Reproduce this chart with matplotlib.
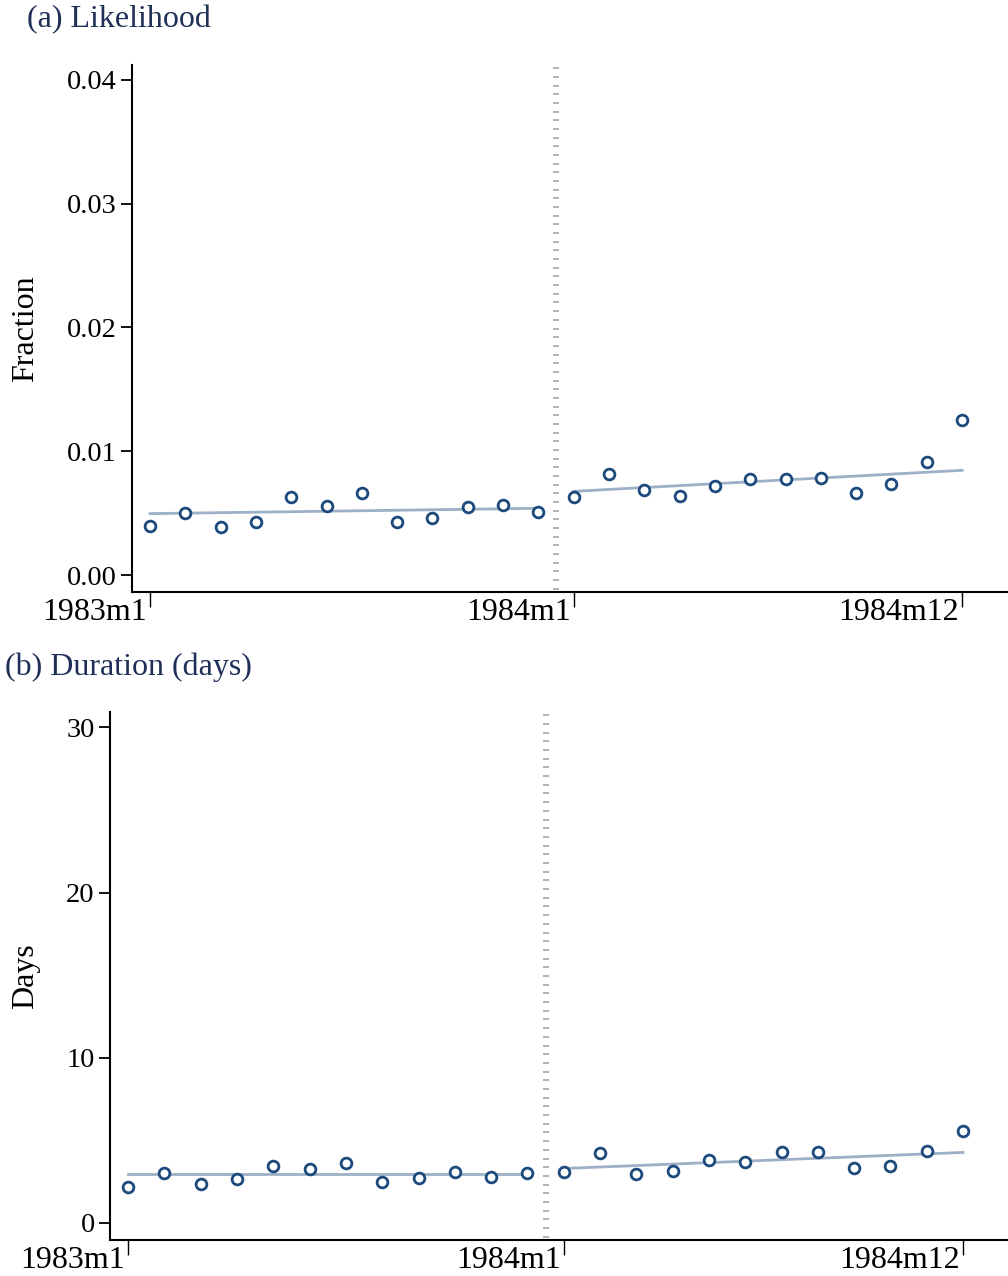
import numpy as np
import matplotlib
matplotlib.use("Agg")
import matplotlib.pyplot as plt
import matplotlib.transforms as mtransforms

plt.rcParams["font.family"] = ["Liberation Serif", "DejaVu Serif"]

# months 1983m1 .. 1984m12 as index 0..23
months = np.arange(24)
cutoff = 11.5

# (a) Likelihood, fraction
likelihood = [0.00396, 0.00503, 0.00385, 0.00431, 0.00633, 0.00555,
              0.00660, 0.00431, 0.00461, 0.00550, 0.00563, 0.00512,
              0.00628, 0.00816, 0.00684, 0.00641, 0.00722, 0.00773,
              0.00778, 0.00784, 0.00663, 0.00733, 0.00916, 0.01253]
like_fit_pre = [0.00496, 0.00539]
like_fit_post = [0.00676, 0.00846]

# (b) Duration, days
duration = [2.18, 3.03, 2.34, 2.64, 3.47, 3.25, 3.61, 2.50, 2.72, 3.11, 2.76, 3.00,
            3.06, 4.24, 2.98, 3.16, 3.83, 3.69, 4.27, 4.31, 3.35, 3.45, 4.36, 5.58]
dur_fit_pre = [2.96, 2.96]
dur_fit_post = [3.30, 4.27]

xtick_pos = [0, 12, 23]
xtick_labels = ["1983m1", "1984m1", "1984m12"]

marker_col = "#1c4a7c"
fit_col = "#9db0c5"
title_col = "#1f2f57"

fig = plt.figure(figsize=(10.08, 12.76), dpi=100)


def panel(rect, y, fit_pre, fit_post, yticks, yfmt, ylim, xlim, ylabel, label_x):
    ax = fig.add_axes(rect)
    ax.plot([0, 11], fit_pre, color=fit_col, lw=2, zorder=2)
    ax.plot([12, 23], fit_post, color=fit_col, lw=2, zorder=2)
    ax.scatter(months, y, s=60, facecolors="white", edgecolors=marker_col,
               linewidths=2, zorder=3)

    # cutoff line drawn as short gray dashes
    trans = mtransforms.blended_transform_factory(ax.transData, ax.transAxes)
    ys = np.linspace(0.006, 0.994, 61)
    ax.plot(np.full(ys.size, cutoff), ys, linestyle="none", marker="_",
            markersize=4.5, markeredgewidth=1.3, color="#ababab",
            transform=trans, zorder=1)

    ax.set_xlim(*xlim)
    ax.set_ylim(*ylim)
    ax.set_yticks(yticks)
    ax.set_yticklabels([yfmt.format(v) for v in yticks])
    ax.set_xticks(xtick_pos)
    ax.set_xticklabels(xtick_labels, ha="right")
    ax.tick_params(axis="y", length=8, width=1.3, labelsize=20.5, pad=3)
    ax.tick_params(axis="x", length=11, width=1.0, labelsize=23, pad=-7)
    offset = mtransforms.ScaledTranslation(-2 / 72, 0, fig.dpi_scale_trans)
    for lab in ax.get_xticklabels():
        lab.set_transform(lab.get_transform() + offset)

    for side in ["top", "right"]:
        ax.spines[side].set_visible(False)
    for side in ["left", "bottom"]:
        ax.spines[side].set_linewidth(1.5)
    ax.set_ylabel(ylabel, fontsize=23)
    ax.yaxis.set_label_coords(label_x, 0.5)
    return ax


ax1 = panel([132 / 1008, 1 - 592 / 1276, 1 - 132 / 1008, (592 - 65) / 1276],
            likelihood, like_fit_pre, like_fit_post,
            [0.0, 0.01, 0.02, 0.03, 0.04], "{:.2f}",
            (-0.00137, 0.0412), (-0.51, 24.3), "Fraction", (40 - 132) / 876)
ax2 = panel([110 / 1008, 1 - 1240 / 1276, 1 - 110 / 1008, (1240 - 712) / 1276],
            duration, dur_fit_pre, dur_fit_post,
            [0, 10, 20, 30], "{:.0f}",
            (-1.03, 30.93), (-0.5, 24.24), "Days", (40 - 110) / 898)

fig.text(27 / 1008, 1 - 20 / 1276, "(a) Likelihood", fontsize=23,
         color=title_col, ha="left", va="center")
fig.text(5 / 1008, 1 - 667 / 1276, "(b) Duration (days)", fontsize=23,
         color=title_col, ha="left", va="center")

fig.savefig("out.png", dpi=100)
